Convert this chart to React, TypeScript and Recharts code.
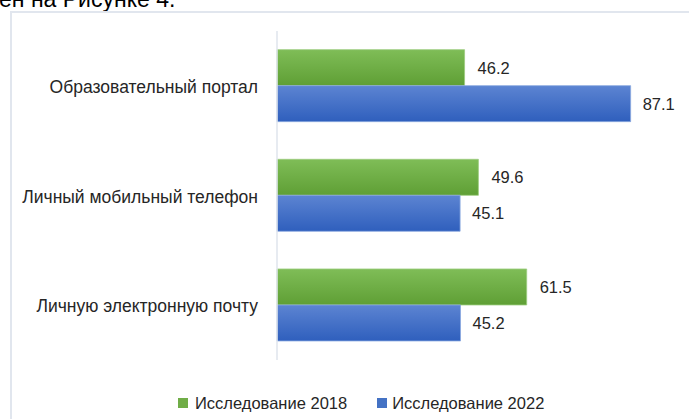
import React from "react";
import {
  BarChart,
  Bar,
  XAxis,
  YAxis,
  LabelList,
  Legend,
} from "recharts";

const categories = [
  "Образовательный портал",
  "Личный мобильный телефон",
  "Личную электронную почту",
];
const study2018 = [46.2, 49.6, 61.5];
const study2022 = [87.1, 45.1, 45.2];
const seriesNames = ["Исследование 2018", "Исследование 2022"];

const data = categories.map((name, i) => ({
  name,
  s2018: study2018[i],
  s2022: study2022[i],
}));

const FONT = "'Liberation Sans', Arial, sans-serif";
const TEXT = "#262626";

// легенда внизу
const LegendContent = () => (
  <div style={{ display: "flex", alignItems: "center", height: 20, fontFamily: FONT, fontSize: 16.5, color: TEXT }}>
    <span style={{ width: 10, height: 10, background: "#70ad47", marginRight: 7 }} />
    <span style={{ marginRight: 30 }}>{seriesNames[0]}</span>
    <span style={{ width: 10, height: 10, background: "#4472c4", marginRight: 5 }} />
    <span>{seriesNames[1]}</span>
  </div>
);

export default function App() {
  return (
    <div
      style={{
        position: "absolute",
        top: 0,
        left: 0,
        width: 689,
        height: 419,
        overflow: "hidden",
        background: "#fff",
        fontFamily: FONT,
      }}
    >
      <div
        style={{
          position: "absolute",
          top: -12,
          left: -1,
          fontSize: 23,
          lineHeight: "23px",
          color: "#000",
          whiteSpace: "nowrap",
        }}
      >
        ен на Рисунке 4.
      </div>
      <div
        style={{
          position: "absolute",
          top: 11,
          left: 10,
          width: 720,
          height: 440,
          border: "2px solid #e1e6ee",
          boxSizing: "border-box",
        }}
      />
      <div style={{ position: "absolute", top: 0, left: 0 }}>
        <BarChart
          width={689}
          height={419}
          data={data}
          layout="vertical"
          margin={{ top: 31, right: 6, bottom: 39, left: 0 }}
          barCategoryGap="17%"
          barGap={0}
        >
          <defs>
            <linearGradient id="g2018" x1="0" y1="0" x2="0" y2="1">
              <stop offset="0%" stopColor="#7fbd57" />
              <stop offset="100%" stopColor="#5f9f35" />
            </linearGradient>
            <linearGradient id="g2022" x1="0" y1="0" x2="0" y2="1">
              <stop offset="0%" stopColor="#5c84d2" />
              <stop offset="100%" stopColor="#2f5fbd" />
            </linearGradient>
          </defs>
          <XAxis type="number" domain={[0, 100]} hide />
          <YAxis
            type="category"
            dataKey="name"
            width={277}
            tickLine={false}
            tickSize={0}
            tickMargin={19}
            axisLine={{ stroke: "#dfe4ec", strokeWidth: 1.5 }}
            tick={{ fill: TEXT, fontSize: 17.5, fontFamily: FONT, dy: 1 }}
          />
          <Legend
            verticalAlign="bottom"
            content={<LegendContent />}
            wrapperStyle={{ top: 393, left: 178, width: "auto" }}
          />
          <Bar
            dataKey="s2018"
            name={seriesNames[0]}
            fill="url(#g2018)"
            stroke="#9ccc7f"
            strokeWidth={0.8}
            isAnimationActive={false}
          >
            <LabelList dataKey="s2018" position="right" offset={13} fill={TEXT} fontSize={16.5} fontFamily={FONT} />
          </Bar>
          <Bar
            dataKey="s2022"
            name={seriesNames[1]}
            fill="url(#g2022)"
            stroke="#8aa8e0"
            strokeWidth={0.8}
            isAnimationActive={false}
          >
            <LabelList dataKey="s2022" position="right" offset={12} fill={TEXT} fontSize={16.5} fontFamily={FONT} />
          </Bar>
        </BarChart>
      </div>
    </div>
  );
}
